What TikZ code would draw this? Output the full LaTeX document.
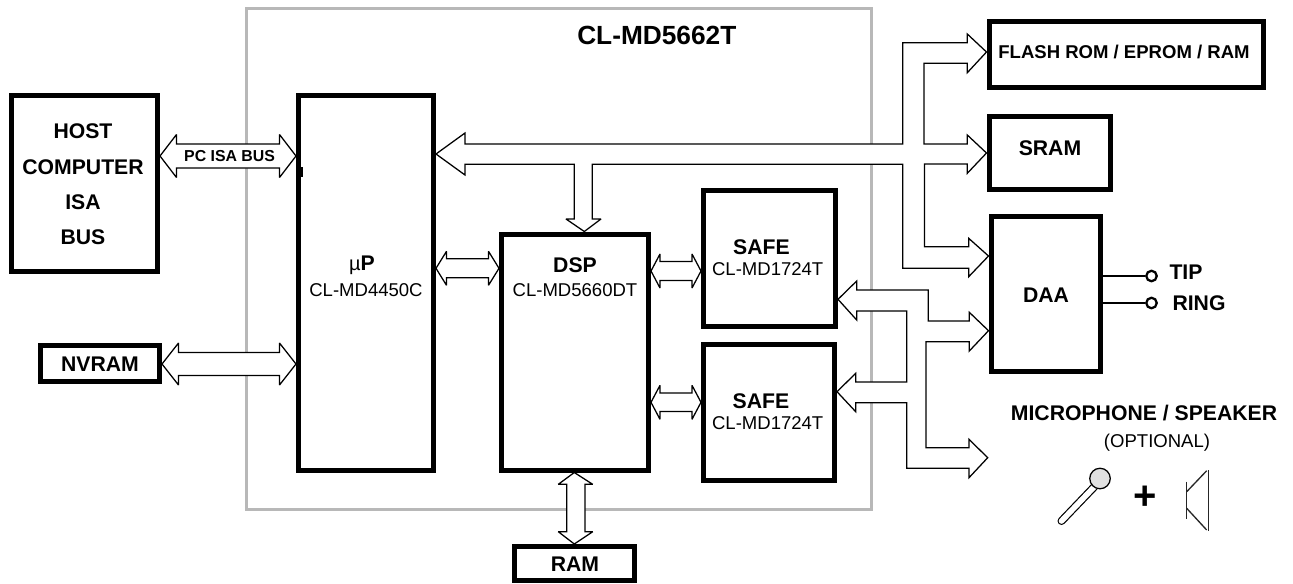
\documentclass[tikz,border=0pt]{standalone}
\usepackage{fontspec}
\setmainfont{Liberation Sans}
\usetikzlibrary{calc}
\tikzset{
  chipbox/.style={draw=black!28,line width=2.25pt},
  blk/.style 2 args={draw=black,line width=3.75pt,minimum width=#1*0.75pt,minimum height=#2*0.75pt,inner sep=0pt},
  bus/.style={draw=black,fill=white,line width=0.95pt,line join=miter,miter limit=3},
  wire/.style={draw=black,line width=1.6pt},
  term/.style={draw=black,fill=white,line width=1.7pt,circle,minimum size=10.5*0.75pt,inner sep=0pt},
  big/.style={font=\fontsize{15.9}{19}\selectfont\bfseries,inner sep=0pt},
  midb/.style={font=\fontsize{13.9}{17}\selectfont\bfseries,inner sep=0pt},
  smb/.style={font=\fontsize{11.9}{14}\selectfont\bfseries,inner sep=0pt},
  reg/.style={font=\fontsize{13.9}{17}\selectfont,inner sep=0pt},
  spk/.style={draw=black!85,line width=1pt},
}
% horizontal double block arrow between two tips: head length, head half, shaft half
\newcommand{\hbus}[5]{\draw[bus] (#1) -- ($(#1)+(#3,-#4)$) -- ($(#1)+(#3,-#5)$) -- ($(#2)+(-#3,-#5)$) -- ($(#2)+(-#3,-#4)$) -- (#2) -- ($(#2)+(-#3,#4)$) -- ($(#2)+(-#3,#5)$) -- ($(#1)+(#3,#5)$) -- ($(#1)+(#3,#4)$) -- cycle;}
\begin{document}
\begin{tikzpicture}[x=0.75pt,y=-0.75pt]
\useasboundingbox (0,0) rectangle (1293,583);
\node[chipbox,minimum width=625*0.75pt,minimum height=501*0.75pt,inner sep=0pt] (chip) at (559,258.5) {};
\node[blk={146}{176}] (host) at (84.5,183.5) {};
\node[blk={119}{36}] (nvram) at (100,363.5) {};
\node[blk={135}{374.5}] (up) at (366,282.75) {};
\node[blk={147}{236}] (dsp) at (575,352) {};
\node[blk={132}{136}] (safea) at (769.5,258) {};
\node[blk={131}{136}] (safeb) at (769,412) {};
\node[blk={274}{66.5}] (flash) at (1126,54.25) {};
\node[blk={121.5}{72.5}] (sram) at (1049.75,152.75) {};
\node[blk={109.5}{155}] (daa) at (1045.75,294) {};
\node[blk={119.5}{34}] (ram) at (574.25,563.5) {};
\fill (301,167) rectangle (303,177);
% labels
\node[font=\fontsize{19.7}{23}\selectfont\bfseries,inner sep=0pt] (ttl) at (656.8,35) {CL-MD5662T};
\node[big] (h1) at (83,131) {HOST};
\node[big] (h2) at (83,167) {COMPUTER};
\node[big] (h3) at (83,202) {ISA};
\node[big] (h4) at (83,237) {BUS};
\node[big] (nvl) at (100,364) {NVRAM};
\node[big] (upa) at (362,265.5) {{\fontsize{15}{17}\selectfont\mdseries µ}P};
\node[reg] (upb) at (366,290) {CL-MD4450C};
\node[big] (dspa) at (575,265.5) {DSP};
\node[reg] (dspb) at (575,290.5) {CL-MD5660DT};
\node[big] (sa1) at (761.5,247) {SAFE};
\node[reg] (sa2) at (767.7,269.5) {CL-MD1724T};
\node[big] (sb1) at (761,400.7) {SAFE};
\node[reg] (sb2) at (767.7,423.5) {CL-MD1724T};
\node[midb] (fl) at (1124,52) {FLASH ROM / EPROM / RAM};
\node[big] (srl) at (1050,148) {SRAM};
\node[big] (dal) at (1046,295) {DAA};
\node[big] (ral) at (575,564) {RAM};
\node[big] (tpl) at (1186,272) {TIP};
\node[big] (rnl) at (1199,303) {RING};
\node[big] (mic) at (1144,413) {MICROPHONE / SPEAKER};
\node[reg] (opt) at (1157,443) {(OPTIONAL)};
% terminals
\node[term] (tip) at (1151.5,276) {};
\node[term] (ring) at (1151.5,303) {};
\draw[wire] (daa.east |- tip) -- (tip);
\draw[wire] (daa.east |- ring) -- (ring);
% straight buses
\coordinate (a1) at (host.east |- 0,156); \coordinate (a2) at (up.west |- 0,156);
\hbus{a1}{a2}{16.5}{21.5}{12}
\node[smb] (pc) at (229.6,155.7) {PC ISA BUS};
\coordinate (b1) at (nvram.east |- 0,364); \coordinate (b2) at (up.west |- 0,364);
\hbus{b1}{b2}{16.5}{21}{11.5}
\coordinate (c1) at (up.east |- 0,268.3); \coordinate (c2) at (dsp.west |- 0,268.3);
\hbus{c1}{c2}{10.5}{17}{9.5}
\coordinate (d1) at (dsp.east |- 0,271); \coordinate (d2) at (safea.west |- 0,271);
\hbus{d1}{d2}{9}{17}{9.5}
\coordinate (e1) at (dsp.east |- 0,402.3); \coordinate (e2) at (safeb.west |- 0,402.3);
\hbus{e1}{e2}{9}{17}{9.2}
% DSP - RAM
\draw[bus] (dsp.south -| 574.3,0) -- (592.7,484.3) -- (585,484.3) -- (585,531.7) -- (592.7,531.7) -- (ram.north -| 574.3,0) -- (558.3,531.7) -- (566.7,531.7) -- (566.7,484.3) -- (558.3,484.3) -- cycle;
% main bus
\draw[bus] (up.east |- 0,154) -- (465,133) -- (465,144) -- (902.7,144) -- (902.7,42.7) -- (967.3,42.7) -- (967.3,34) -- (flash.west |- 0,52) -- (967.3,72.7) -- (967.3,63.3) -- (924,63.3) -- (924,144) -- (967.3,144) -- (967.3,135) -- (sram.west |- 0,153) -- (967.3,173.3) -- (967.3,164) -- (924.5,164) -- (924.5,246.7) -- (968.7,246.7) -- (968.7,238.3) -- (daa.west |- 0,256) -- (968.7,276.7) -- (968.7,268.3) -- (902.7,268.3) -- (902.7,164.3) -- (592.3,164.3) -- (592.3,219) -- (601,219) -- (dsp.north -| 584.3,0) -- (566,219) -- (574.3,219) -- (574.3,164.3) -- (465,164.3) -- (465,175) -- cycle;
% safe - DAA - microphone bus
\coordinate (mictip) at (987.7,457.7);
\draw[bus] (safea.east |- 0,299.3) -- (856.7,281) -- (856.7,290) -- (928.3,290) -- (928.3,321) -- (969.3,321) -- (969.3,312.3) -- (daa.west |- 0,330.7) -- (969.3,351) -- (969.3,341.7) -- (926,341.7) -- (926,447.7) -- (969,447.7) -- (969,439.3) -- (mictip) -- (969,477.7) -- (969,468.3) -- (906.7,468.3) -- (906.7,402.7) -- (855.7,402.7) -- (855.7,411.7) -- (safeb.east |- 0,391.7) -- (855.7,373.3) -- (855.7,382) -- (906.7,382) -- (906.7,311) -- (856.7,311) -- (856.7,320) -- cycle;
% microphone
\draw[line width=6pt,line cap=round,black] (1061.5,521) -- (1095,486);
\draw[line width=4.2pt,line cap=round,white] (1061.5,521) -- (1095,486);
\node[draw=black,fill=black!12,line width=0.95pt,circle,minimum size=20.5*0.75pt,inner sep=0pt] (micr) at (1100,478.5) {};
\node[font=\fontsize{30}{33}\selectfont\bfseries,inner sep=0pt] (plus) at (1145.3,497.7) {+};
% speaker
\draw[spk] (1186.7,481.7) -- (1186.7,519.3);
\draw[spk] (1186.7,491.7) -- (1206.7,470.7);
\draw[spk] (1208.7,470) -- (1208.7,530.7);
\draw[spk] (1186.7,508.3) -- (1206.7,530);
\end{tikzpicture}
\end{document}
